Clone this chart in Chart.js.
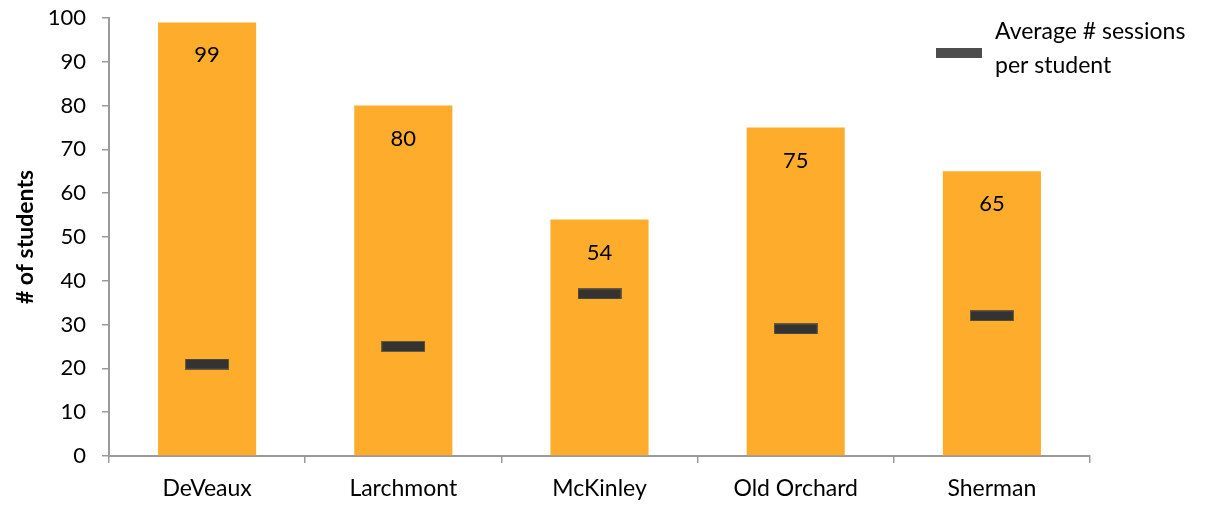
<!DOCTYPE html>
<html>
<head>
<meta charset="utf-8">
<script src="https://cdn.jsdelivr.net/npm/chart.js@4/dist/chart.umd.min.js"></script>
<style>
  html, body { margin: 0; padding: 0; background: #fff; }
  #wrap { width: 1212px; height: 508px; }
</style>
</head>
<body>
<div id="wrap"><canvas id="chart" width="1212" height="508"></canvas></div>
<script>
// --- Data ---
const schools = ["DeVeaux", "Larchmont", "McKinley", "Old Orchard", "Sherman"];
const students = [99, 80, 54, 75, 65];
const avgSessions = [21, 25, 37, 29, 32];
const yTicks = [0, 10, 20, 30, 40, 50, 60, 70, 80, 90, 100];

const FONT = "Lato, 'Open Sans', sans-serif";
const NUM_SIZE = 22;
const TEXT_SIZE = 23;
const BAR_COLOR = "#FDAD2B";
const MARK_COLOR = "#333333";

// dash-shaped point used for the average markers
function makeDash(w, h, fill) {
    let c = document.createElement("canvas");
    c.width = w; c.height = h;
    let g = c.getContext("2d");
    g.fillStyle = "#6b5a3a";
    g.fillRect(0, 0, w, h);
    g.fillStyle = fill;
    g.fillRect(1, 1, w - 2, h - 2);
    return c;
}
const dash = makeDash(44, 11, MARK_COLOR);

// value labels just under the top of each bar
const barLabels = {
    id: "barLabels",
    afterDatasetsDraw(chart) {
        let ctx = chart.ctx;
        let meta = chart.getDatasetMeta(0);
        ctx.save();
        ctx.font = NUM_SIZE + "px " + FONT;
        ctx.fillStyle = "#000";
        ctx.textAlign = "center";
        ctx.textBaseline = "middle";
        meta.data.forEach((bar, i) => {
            ctx.fillText(students[i], bar.x, bar.y + 33);
        });
        ctx.restore();
    }
};

// legend with a wrapped two-line label
const sideLegend = {
    id: "sideLegend",
    afterDraw(chart) {
        let ctx = chart.ctx;
        let label = chart.data.datasets[1].label;
        ctx.save();
        ctx.fillStyle = "#4d4d4d";
        ctx.fillRect(936, 48, 46, 10);
        ctx.font = TEXT_SIZE + "px " + FONT;
        ctx.fillStyle = "#000";
        ctx.textAlign = "left";
        ctx.textBaseline = "middle";
        label.forEach((line, i) => ctx.fillText(line, 995, 32 + i * 34));
        ctx.restore();
    }
};

new Chart(document.getElementById("chart").getContext("2d"), {
    type: "bar",
    data: {
        labels: schools,
        datasets: [
            {
                label: "# of students",
                data: students,
                backgroundColor: BAR_COLOR,
                categoryPercentage: 1,
                barPercentage: 0.5,
                order: 2
            },
            {
                type: "line",
                label: ["Average # sessions", "per student"],
                data: avgSessions,
                showLine: false,
                pointStyle: dash,
                pointRadius: 6,
                order: 1
            }
        ]
    },
    options: {
        responsive: false,
        animation: false,
        layout: { padding: { left: 12, right: 122, top: 0, bottom: 0 } },
        plugins: {
            legend: { display: false },
            tooltip: { enabled: false }
        },
        scales: {
            x: {
                grid: { offset: true, drawOnChartArea: false, drawTicks: true, tickLength: 7, color: "#9a9a9a", lineWidth: 1.5 },
                border: { color: "#9a9a9a", width: 2 },
                ticks: { color: "#000", font: { family: FONT, size: TEXT_SIZE }, padding: 12 },
                afterFit(scale) { scale.height = 52; }
            },
            y: {
                min: 0,
                max: 100,
                afterBuildTicks(scale) { scale.ticks = yTicks.map(v => ({ value: v })); },
                grid: { drawOnChartArea: false, drawTicks: true, tickLength: 7, color: "#9a9a9a", lineWidth: 1.5 },
                border: { color: "#9a9a9a", width: 2 },
                ticks: { color: "#000", font: { family: FONT, size: NUM_SIZE }, padding: 16 },
                title: {
                    display: true,
                    text: "# of students",
                    color: "#000",
                    font: { family: FONT, size: TEXT_SIZE, weight: "bold" },
                    padding: { top: 0, bottom: 4 }
                },
                afterFit(scale) {
                    scale.width = 97;
                    scale.paddingTop = 18;
                    scale.paddingBottom = 13;
                }
            }
        }
    },
    plugins: [barLabels, sideLegend]
});
</script>
</body>
</html>
